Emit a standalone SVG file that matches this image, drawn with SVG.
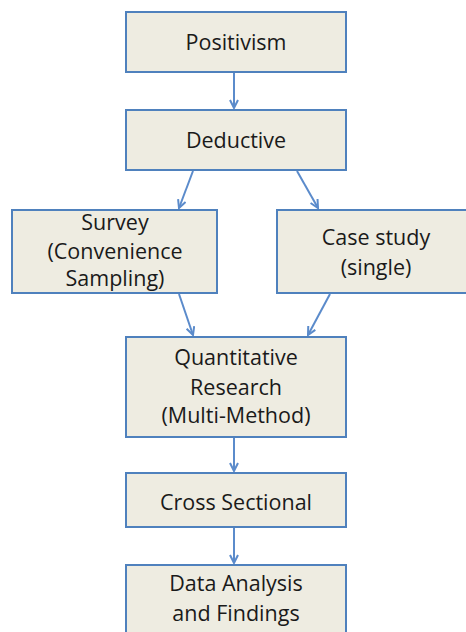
<svg xmlns="http://www.w3.org/2000/svg" width="466" height="632" viewBox="0 0 466 632">
<defs>
<style>
.box{fill:#EEECE1;stroke:#4F81BD;stroke-width:2}
.lbl{font-family:"Open Sans","Liberation Sans",sans-serif;font-size:21.5px;fill:#1a1a1a;text-anchor:middle}
.con{stroke:#5B8BCB;stroke-width:2;fill:none}
</style>
<marker id="ah" viewBox="0 0 10 10" refX="9" refY="5" markerWidth="10" markerHeight="10" markerUnits="userSpaceOnUse" orient="auto">
<path d="M1,1 L9,5 L1,9" fill="none" stroke="#5B8BCB" stroke-width="2"/>
</marker>
</defs>
<rect width="466" height="632" fill="#FFFFFF"/>
<g id="n-positivism"><rect class="box" x="126" y="12" width="220" height="60"/><text class="lbl" x="236" y="50">Positivism</text></g>
<g id="n-deductive"><rect class="box" x="126" y="110" width="220" height="60"/><text class="lbl" x="236" y="148">Deductive</text></g>
<g id="n-survey"><rect class="box" x="12" y="210" width="205" height="83"/>
<text class="lbl" x="115" y="230">Survey</text><text class="lbl" x="115" y="259">(Convenience</text><text class="lbl" x="115" y="286">Sampling)</text></g>
<g id="n-case"><rect class="box" x="277" y="210" width="200" height="83"/>
<text class="lbl" x="376" y="245">Case study</text><text class="lbl" x="376" y="275">(single)</text></g>
<g id="n-quant"><rect class="box" x="126" y="337" width="220" height="100"/>
<text class="lbl" x="236" y="365">Quantitative</text><text class="lbl" x="236" y="395">Research</text><text class="lbl" x="236" y="423">(Multi-Method)</text></g>
<g id="n-cross"><rect class="box" x="126" y="473" width="220" height="54"/><text class="lbl" x="236" y="510">Cross Sectional</text></g>
<g id="n-data"><rect class="box" x="126" y="565" width="220" height="80"/>
<text class="lbl" x="236" y="591">Data Analysis</text><text class="lbl" x="236" y="621">and Findings</text></g>
<g id="connectors">
<line class="con" x1="234" y1="73" x2="234" y2="108" marker-end="url(#ah)"/>
<line class="con" x1="193" y1="171" x2="179" y2="208" marker-end="url(#ah)"/>
<line class="con" x1="297" y1="171" x2="318" y2="208" marker-end="url(#ah)"/>
<line class="con" x1="179" y1="294" x2="193" y2="335" marker-end="url(#ah)"/>
<line class="con" x1="330" y1="294" x2="308" y2="335" marker-end="url(#ah)"/>
<line class="con" x1="234" y1="438" x2="234" y2="471" marker-end="url(#ah)"/>
<line class="con" x1="234" y1="528" x2="234" y2="563" marker-end="url(#ah)"/>
</g>
</svg>
